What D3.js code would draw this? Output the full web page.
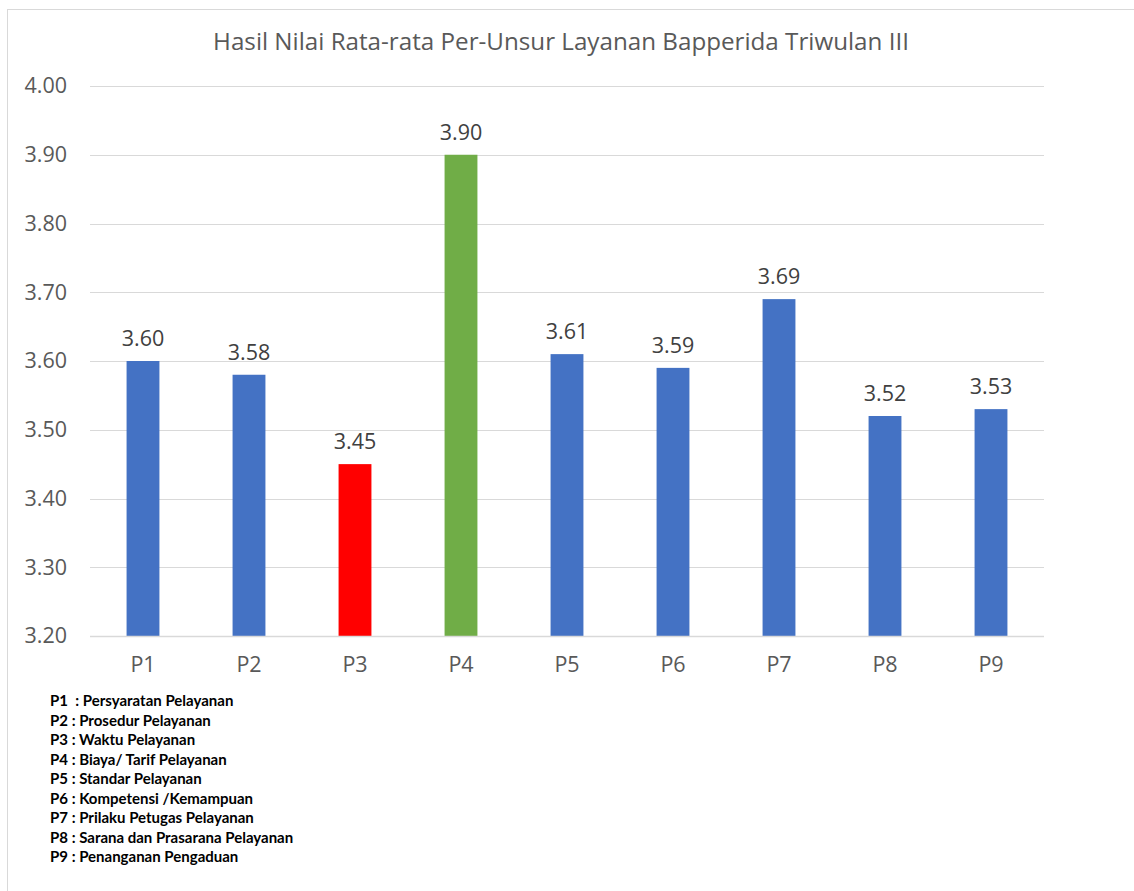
<!DOCTYPE html>
<html><head><meta charset="utf-8">
<script src="https://cdn.jsdelivr.net/npm/d3@7"></script>
<style>body{margin:0;background:#fff;}svg{display:block;}</style>
</head><body>
<script>
const title = "Hasil Nilai Rata-rata Per-Unsur Layanan Bapperida Triwulan III";
const categories = ["P1","P2","P3","P4","P5","P6","P7","P8","P9"];
const values = [3.60,3.58,3.45,3.90,3.61,3.59,3.69,3.52,3.53];
const barColors = ["#4472C4","#4472C4","#FF0000","#70AD47","#4472C4","#4472C4","#4472C4","#4472C4","#4472C4"];
const yTicks = [3.20,3.30,3.40,3.50,3.60,3.70,3.80,3.90,4.00];
const legendItems = [
  ["P1", "  : Persyaratan Pelayanan"],
  ["P2", " : Prosedur Pelayanan"],
  ["P3", " : Waktu Pelayanan"],
  ["P4", " : Biaya/ Tarif Pelayanan"],
  ["P5", " : Standar Pelayanan"],
  ["P6", " : Kompetensi /Kemampuan"],
  ["P7", " : Prilaku Petugas Pelayanan"],
  ["P8", " : Sarana dan Prasarana Pelayanan"],
  ["P9", " : Penanganan Pengaduan"]
];

const W = 1134, H = 891;
const svg = d3.select("body").append("svg").attr("width", W).attr("height", H);
svg.append("rect").attr("x", 7.5).attr("y", 9.5).attr("width", W).attr("height", H)
  .attr("fill", "#fff").attr("stroke", "#D9D9D9").attr("stroke-width", 1);

const font = "Open Sans, Liberation Sans, sans-serif";
svg.append("text").attr("x", 561).attr("y", 50).attr("text-anchor", "middle")
  .attr("font-family", font).attr("font-size", 24.2).attr("fill", "#595959").text(title);

const x = d3.scaleBand().domain(categories).range([90, 1044]).paddingInner(0.69).paddingOuter(0.345);
const y = d3.scaleLinear().domain([3.2, 4.0]).range([636, 86]);

const grid = svg.append("g");
grid.selectAll("line").data(yTicks).join("line")
  .attr("x1", 90).attr("x2", 1044)
  .attr("y1", d => Math.round(y(d)) + 0.5).attr("y2", d => Math.round(y(d)) + 0.5)
  .attr("stroke", "#D9D9D9").attr("stroke-width", 1);

const yAxis = svg.append("g").attr("transform", "translate(90,0)")
  .call(d3.axisLeft(y).tickValues(yTicks).tickFormat(d3.format(".2f")).tickSize(0).tickPadding(23));
yAxis.select(".domain").remove();
yAxis.selectAll("text").attr("font-family", font).attr("font-size", 21.5).attr("fill", "#595959");

svg.append("g").selectAll("rect").data(values).join("rect")
  .attr("x", (d, i) => x(categories[i]))
  .attr("width", x.bandwidth())
  .attr("y", d => y(d))
  .attr("height", d => y(3.2) - y(d))
  .attr("fill", (d, i) => barColors[i]);

svg.append("line").attr("x1", 90).attr("x2", 1044).attr("y1", 636.5).attr("y2", 636.5)
  .attr("stroke", "#D9D9D9").attr("stroke-width", 1.5);

const xAxis = svg.append("g").attr("transform", "translate(0,636)")
  .call(d3.axisBottom(x).tickSize(0).tickPadding(21));
xAxis.select(".domain").remove();
xAxis.selectAll("text").attr("font-family", font).attr("font-size", 21.5).attr("fill", "#595959");

svg.append("g").selectAll("text").data(values).join("text")
  .attr("x", (d, i) => x(categories[i]) + x.bandwidth() / 2)
  .attr("y", d => y(d) - 15)
  .attr("text-anchor", "middle")
  .attr("font-family", font).attr("font-size", 21.5).attr("fill", "#404040")
  .text(d => d3.format(".2f")(d));

const lg = svg.append("g");
legendItems.forEach((it, i) => {
  lg.append("text").attr("x", 50).attr("y", 706 + i * 19.5)
    .attr("font-family", "Lato, sans-serif").attr("font-weight", "bold").attr("font-size", 15)
    .attr("fill", "#000").attr("xml:space", "preserve").style("white-space", "pre")
    .text(it[0] + it[1]);
});
</script>
</body></html>
